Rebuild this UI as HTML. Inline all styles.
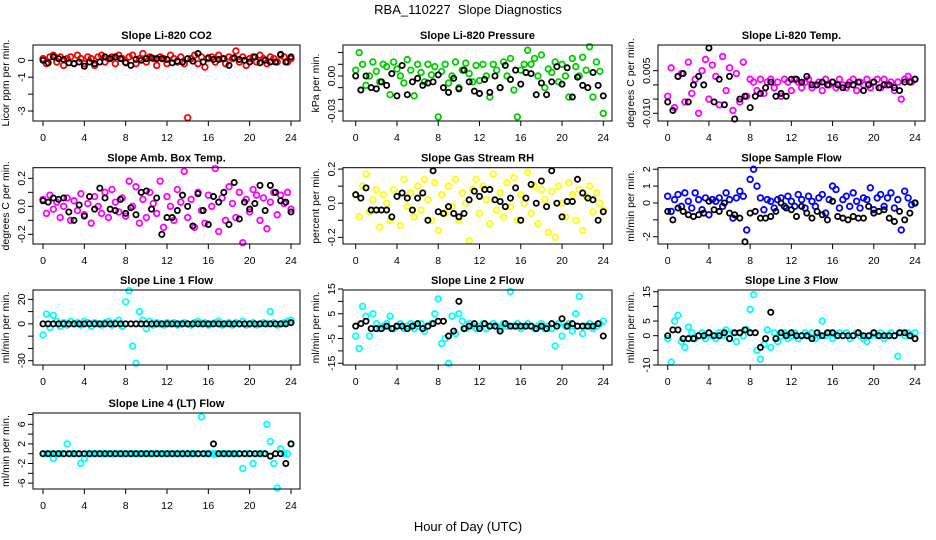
<!DOCTYPE html>
<html><head><meta charset="utf-8"><style>
html,body{margin:0;padding:0;background:#fff;}
svg{display:block;font-family:"Liberation Sans",sans-serif;}
</style></head><body>
<svg id="chart" width="936" height="540" viewBox="0 0 936 540">
<rect width="936" height="540" fill="#fff"/>
<text x="468" y="14" font-size="13" text-anchor="middle">RBA_110227&#160; Slope Diagnostics</text>
<text x="468" y="531" font-size="13" text-anchor="middle">Hour of Day (UTC)</text>
</svg>
<script>
const hourTicks=[0,4,8,12,16,20,24];
const co2Colored=[0.1,-0.2,0.2,0.3,-0.1,0.2,-0.3,0.1,0.2,-0.2,0.3,0.1,-0.2,0.2,0.1,-0.3,0.2,0.3,-0.1,0.1,0.2,-0.2,0.3,0.1,-0.1,0.2,0.3,-0.2,0.1,0.4,-0.1,0.2,0.1,-0.3,0.2,0.1,-0.2,0.3,0.1,-0.1,0.2,-0.2,-3.4,0.1,0.3,-0.2,0.2,-0.4,0.1,0.2,-0.1,0.3,0.1,-0.2,0.2,0.1,0.55,-0.1,0.2,-0.3,0.1,0.2,-0.1,0.3,0.1,-0.2,0.2,0.1,-0.1,0.3,0.2,-0.1,0.1];
const co2Black=[0,-0.15,0.2,0.1,0.05,-0.15,-0.2,-0.1,-0.35,-0.1,-0.2,-0.1,0.2,0.1,0.2,0.1,-0.15,-0.3,0.05,0.0,0.1,0.15,0.1,0.1,0.05,-0.15,-0.05,-0.1,0.1,-0.05,0.4,-0.1,0.15,0.05,0.05,0.1,-0.3,0.15,0.05,0.0,-0.1,0.2,-0.15,0.0,-0.1,-0.1,0.35,-0.1,0.2];
const presColored=[0.005,0.02,0.01,-0.008,0.0,0.012,0.004,-0.005,0.01,0.008,-0.016,0.012,0.006,0.0,-0.006,0.014,0.005,-0.017,0.01,0.003,-0.005,0.01,0.001,0.008,-0.035,0.004,0.01,-0.006,0.0,0.012,-0.01,0.005,0.011,0.002,-0.005,0.009,-0.004,0.01,0.0,-0.018,0.01,0.005,-0.01,0.012,0.0,0.015,-0.012,-0.035,0.005,0.01,0.022,0.01,0.015,0.0,0.018,-0.01,0.006,0.003,0.012,-0.005,0.01,0.0,-0.018,0.015,0.008,0.0,0.016,0.005,0.025,-0.018,0.012,0.004,-0.032];
const presBlack=[0.0,-0.012,0.0,-0.01,-0.011,-0.005,-0.008,0.002,-0.017,0.009,-0.016,-0.005,-0.002,-0.008,-0.006,-0.005,0.001,-0.01,-0.014,-0.002,-0.011,0.005,-0.005,-0.013,-0.015,-0.003,-0.014,0.0,-0.01,0.009,-0.003,0.005,-0.007,0.003,0.002,-0.016,-0.006,-0.016,-0.005,0.008,-0.007,0.007,-0.018,-0.001,-0.008,-0.01,0.003,-0.008,-0.017];
const tempColored=[-0.004,0.006,-0.008,0.003,0.004,-0.006,0.008,-0.003,0.002,-0.01,0.005,0.009,-0.005,0.007,0.003,-0.007,0.01,-0.002,0.006,-0.009,0.004,-0.006,0.008,-0.004,0.002,0.001,-0.002,0.002,-0.003,0.001,0.002,-0.001,0.001,-0.004,0.002,0.001,-0.002,0.002,0.001,-0.001,0.001,0.002,-0.001,0.0,0.001,-0.002,0.002,0.0,0.001,-0.001,0.002,0.0,-0.001,0.001,0.002,-0.002,0.001,0.0,0.002,-0.001,0.001,0.002,-0.001,0.002,0.0,0.001,-0.002,0.001,-0.005,0.002,0.003,0.001,0.002];
const tempBlack=[-0.006,-0.009,0.003,0.004,-0.006,0.0,0.003,0.0,0.013,-0.006,0.002,-0.007,0.003,-0.012,-0.005,-0.004,-0.008,-0.004,-0.003,-0.001,0.001,-0.004,-0.003,-0.004,0.002,0.002,0.001,0.003,0.0,0.0,0.001,0.0,0.001,0.0,-0.001,0.0,0.0,0.001,-0.002,0.0,0.001,-0.001,0.0,0.0,-0.001,-0.002,0.001,0.001,0.002];
const ambColored=[0.05,-0.05,0.08,-0.02,0.03,-0.08,0.0,0.06,-0.1,0.04,-0.03,0.09,-0.06,0.02,-0.12,0.07,0.0,-0.05,0.1,-0.08,0.12,0.03,-0.04,0.06,-0.07,0.18,0.0,0.14,-0.12,0.05,-0.08,0.1,0.02,-0.05,0.18,-0.15,0.07,0.0,-0.1,0.12,0.03,0.25,-0.08,0.05,-0.15,0.1,-0.03,-0.12,0.08,0.0,0.27,-0.18,0.06,-0.1,0.14,0.02,-0.08,0.1,-0.26,0.05,-0.04,0.12,0.08,-0.1,0.06,-0.16,0.03,0.1,-0.06,0.08,0.02,0.1,-0.02];
const ambBlack=[0.04,0.03,0.06,0.05,0.06,-0.04,-0.1,0.01,-0.07,0.07,-0.02,0.13,0.06,-0.02,-0.03,0.05,-0.05,-0.01,-0.06,0.1,0.11,-0.02,0.06,-0.2,-0.08,-0.08,-0.03,0.08,0.0,-0.14,0.09,-0.03,-0.13,0.07,0.03,0.1,-0.13,0.17,-0.09,0.03,-0.02,0.02,0.15,-0.03,0.15,0.1,0.04,0.03,-0.04];
const rhColored=[0.05,-0.08,0.1,0.17,-0.05,0.02,0.08,-0.14,0.05,0.0,-0.1,0.08,0.04,-0.13,0.14,-0.02,0.06,-0.08,0.1,-0.04,0.14,0.02,-0.1,0.12,-0.16,0.05,-0.06,0.1,-0.02,0.14,-0.1,0.06,0.0,-0.22,0.08,0.14,-0.06,0.1,0.02,-0.12,0.17,-0.04,0.06,-0.08,0.12,-0.02,0.15,-0.1,0.05,0.0,0.18,-0.06,0.1,-0.12,0.08,0.02,-0.17,0.07,-0.2,0.1,0.0,-0.08,0.12,0.05,-0.1,0.08,-0.16,0.04,0.1,-0.05,0.06,0.0,-0.04];
const rhBlack=[0.05,0.03,0.09,-0.04,-0.04,-0.04,-0.04,-0.08,0.04,0.06,0.03,-0.04,0.03,0.06,-0.1,0.19,-0.05,-0.06,-0.02,-0.06,-0.08,-0.06,0.02,0.07,0.04,0.08,0.08,0.02,0.01,-0.02,0.03,0.09,-0.1,0.03,0.11,0.0,0.13,-0.02,0.19,0.0,-0.08,0.01,0.01,0.14,0.06,0.03,0.02,-0.1,-0.05];
const sampleColored=[0.4,-0.5,0.2,0.5,-0.2,0.6,0.1,-0.3,0.6,0.2,-0.4,0.3,-0.7,0.2,0.1,0.3,-0.2,0.6,0.2,-0.9,0.3,0.7,0.4,-1.6,1.4,2.0,1.0,0.3,-0.4,0.2,0.1,-0.3,0.2,0.3,-0.2,0.4,0.1,-0.2,0.5,0.2,-0.3,0.4,0.1,-0.2,0.3,0.5,-0.6,0.2,1.0,0.8,-0.3,0.2,0.4,-0.2,0.6,0.1,-0.3,0.3,0.2,0.9,-0.4,0.3,0.5,-0.2,0.3,0.6,-0.3,0.2,-1.6,0.7,0.3,-0.1,0.0];
const sampleBlack=[-0.5,-1.0,-0.3,-0.5,-0.7,-0.8,-0.7,-0.6,0.1,-0.4,-0.5,0.0,-0.6,-0.7,-0.9,-2.3,-0.6,-0.5,-0.9,-0.9,-0.8,-0.5,0.0,-0.3,-0.4,-0.8,-0.2,-0.6,-0.9,-0.5,-0.7,-1.0,0.1,-0.8,-0.9,-1.0,-0.8,-0.9,-0.9,-0.2,-0.6,-0.5,-0.4,-0.9,-1.1,-0.5,-1.0,-0.6,0.0];
const line1Colored=[-9,8,-3,7,2,-2,1,-1,2,0,1,-1,2,1,-2,1,0,-1,1,2,-1,1,3,-2,18,27,-18,-32,10,3,-4,2,-1,1,0,-1,1,0,1,-1,0,1,0,-1,1,2,0,1,-1,0,1,2,-1,0,1,-1,1,0,2,-1,0,1,-1,0,1,0,10,1,-1,0,1,2,3];
const line1Black=[0,0,0,0,0,0,0,0,0,0,0,0,0,0,0,0,0,0,0,0,0,0,0,0,0,0,0,0,0,0,0,0,0,0,0,0,0,0,0,0,0,0,0,0,0,0,0,0,1];
const line2Colored=[-4,-9,8,4,-4,5,1,-1,0,1,4,-1,0,1,-1,0,1,-1,0,1,-2,0,1,5,11,-7,-5,-15,4,-3,5,2,-1,1,0,-1,0,1,-1,0,1,0,-1,1,0,14,0,1,-1,0,1,0,-1,0,1,-1,0,-1,-8,1,-4,0,1,-2,5,12,-3,0,1,-1,0,1,2];
const line2Black=[0,1,2,-1,-1,-1,0,-1,0,0,-1,0,1,-1,0,1,2,2,-4,-2,10,-1,0,1,-1,1,0,0,-2,1,0,0,0,0,0,-1,0,-1,1,0,3,0,1,0,0,0,0,1,-4];
const line3Colored=[-1,-9,5,7,-2,-4,3,1,-1,0,1,-1,1,0,-1,1,0,2,-1,1,-2,1,0,2,9,14,-5,-8,-3,2,-4,1,-2,0,1,-1,0,1,-1,0,1,0,1,-1,0,5,0,1,-1,0,1,0,1,-1,0,1,0,-1,-2,0,1,0,1,-1,0,1,0,-7,1,0,1,0,1];
const line3Black=[0,2,2,-1,-1,-1,0,0,1,0,0,1,-1,1,1,2,1,1,-4,-1,8,-1,1,0,1,0,0,0,-1,1,0,1,1,0,0,0,0,1,0,0,1,0,0,0,0,1,1,0,-1];
const line4Colored=[0,0,0,-1,0,0,0,2,0,0,0,-2,-1,0,0,0,0,0,0,0,0,0,0,0,0,0,0,0,0,0,0,0,0,0,0,0,0,0,0,0,0,0,0,0,0,0,7.5,0,0,0,0,0,0,0,0,0,0,0,-3,0,0,-2,0,0,0,6,2.5,-2,-7,1,0,0,2];
const line4Black=[0,0,0,0,0,0,0,0,0,0,0,0,0,0,0,0,0,0,0,0,0,0,0,0,0,0,0,0,0,0,0,0,0,2,0,0,0,0,0,0,0,0,0,0,-0.5,0,0,-2,2];

const panels=[
 {name:'co2',title:'Slope Li-820 CO2',ylab:'Licor ppm per min.',col:'#ff0000',c:co2Colored,b:co2Black,L:33,R:300,T:45,B:121,x0:43,x1:291,ymin:-3.59,ymax:0.905,ticks:[0,-1,-2,-3],labels:['0','-1','','-3']},
 {name:'pressure',title:'Slope Li-820 Pressure',ylab:'kPa per min.',col:'#00cd00',c:presColored,b:presBlack,L:343,R:612,T:45,B:121,x0:355.7,x1:603.3,ymin:-0.0385,ymax:0.0265,ticks:[0.02,0.01,0,-0.01,-0.02,-0.03],labels:['','','0.00','','','-0.03']},
 {name:'temp',title:'Slope Li-820 Temp.',ylab:'degrees C per min.',col:'#ff00ff',c:tempColored,b:tempBlack,L:658,R:925,T:45,B:121,x0:667.7,x1:915,ymin:-0.01271,ymax:0.01405,ticks:[0.005,0,-0.005,-0.01],labels:['0.005','','','-0.010']},
 {name:'amb-box-temp',title:'Slope Amb. Box Temp.',ylab:'degrees C per min.',col:'#ff00ff',c:ambColored,b:ambBlack,L:33,R:300,T:167.7,B:244,x0:43,x1:291,ymin:-0.269,ymax:0.276,ticks:[0.2,0.1,0,-0.1,-0.2],labels:['0.2','','0.0','','-0.2']},
 {name:'gas-rh',title:'Slope Gas Stream RH',ylab:'percent per min.',col:'#ffff00',c:rhColored,b:rhBlack,L:343,R:612,T:167.7,B:244,x0:355.7,x1:603.3,ymin:-0.239,ymax:0.208,ticks:[0.2,0.1,0,-0.1,-0.2],labels:['0.2','','0.0','','-0.2']},
 {name:'sample-flow',title:'Slope Sample Flow',ylab:'ml/min per min.',col:'#0000ff',c:sampleColored,b:sampleBlack,L:658,R:925,T:167.7,B:244,x0:667.7,x1:915,ymin:-2.43,ymax:2.09,ticks:[2,1,0,-1,-2],labels:['2','1','0','','-2']},
 {name:'line1-flow',title:'Slope Line 1 Flow',ylab:'ml/min per min.',col:'#00ffff',c:line1Colored,b:line1Black,L:33,R:300,T:290,B:365,x0:43,x1:291,ymin:-33.5,ymax:27.6,ticks:[20,10,0,-10,-20,-30],labels:['20','','0','','','-30']},
 {name:'line2-flow',title:'Slope Line 2 Flow',ylab:'ml/min per min.',col:'#00ffff',c:line2Colored,b:line2Black,L:343,R:612,T:290,B:365,x0:355.7,x1:603.3,ymin:-15.7,ymax:14.6,ticks:[15,10,5,0,-5,-10,-15],labels:['15','','5','','-5','','-15']},
 {name:'line3-flow',title:'Slope Line 3 Flow',ylab:'ml/min per min.',col:'#00ffff',c:line3Colored,b:line3Black,L:658,R:925,T:290,B:365,x0:667.7,x1:915,ymin:-10,ymax:15.6,ticks:[15,10,5,0,-5,-10],labels:['15','','5','0','','-10']},
 {name:'line4-flow',title:'Slope Line 4 (LT) Flow',ylab:'ml/min per min.',col:'#00ffff',c:line4Colored,b:line4Black,L:33,R:300,T:413,B:489,x0:43,x1:291,ymin:-7.2,ymax:8.3,ticks:[8,6,4,2,0,-2,-4,-6],labels:['','6','','2','','-2','','-6']}
];
const NS='http://www.w3.org/2000/svg';
const svg=document.getElementById('chart');
function mk(tag,attrs,parent){const e=document.createElementNS(NS,tag);for(const k in attrs)e.setAttribute(k,attrs[k]);parent.appendChild(e);return e;}
panels.forEach(p=>{
 const g=mk('g',{},svg);
 
 
 const xs=h=>p.x0+(h/24)*(p.x1-p.x0);
 const ys=v=>p.B-(v-p.ymin)/(p.ymax-p.ymin)*(p.B-p.T);
 const t=mk('text',{x:(p.L+p.R)/2,y:p.T-6,'font-size':11,'font-weight':'bold','text-anchor':'middle'},g);
 t.textContent=p.title;
 
 
 const yl=mk('text',{transform:`translate(${p.L-24},${(p.T+p.B)/2}) rotate(-90)`,'font-size':10.5,'text-anchor':'middle'},g);
 yl.textContent=p.ylab;
 
 
 p.ticks.forEach((v,i)=>{
  const y=ys(v);
  mk('line',{x1:p.L-5,x2:p.L,y1:y,y2:y,stroke:'#000','stroke-width':1},g);
  if(p.labels[i]){const tl=mk('text',{transform:`translate(${p.L-8},${y}) rotate(-90)`,'font-size':10.5,'text-anchor':'middle'},g);tl.textContent=p.labels[i];
   
   }
 });
 hourTicks.forEach(h=>{
  const x=xs(h);
  mk('line',{x1:x,x2:x,y1:p.B,y2:p.B+5,stroke:'#000','stroke-width':1},g);
  const tl=mk('text',{x:x,y:p.B+20,'font-size':10.5,'text-anchor':'middle'},g);
  tl.textContent=h;
  
  
 });
 const pts=mk('g',{fill:'none','stroke-width':1.8},g);
 
 
 p.c.forEach((v,i)=>{
  const c=mk('circle',{cx:xs(i*24/(p.c.length-1)),cy:ys(v),r:2.8,stroke:p.col},pts);
  
  
 });
 p.b.forEach((v,i)=>{
  const c=mk('circle',{cx:xs(i*24/(p.b.length-1)),cy:ys(v),r:2.6,stroke:'#000'},pts);
  
  
 });
 const box=mk('rect',{x:p.L,y:p.T,width:p.R-p.L,height:p.B-p.T,fill:'none',stroke:'#000','stroke-width':1},g);
 
 
});
</script>
</body></html>
